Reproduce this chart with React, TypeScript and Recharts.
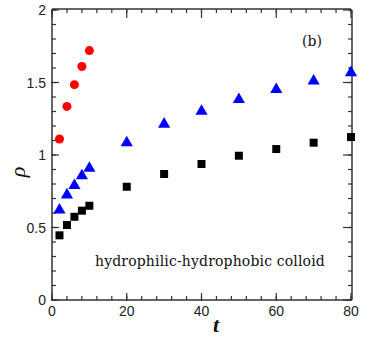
import { ScatterChart, Scatter, XAxis, YAxis, ZAxis } from 'recharts';

// time steps
const tShort = [2, 4, 6, 8, 10];
const tLong = [2, 4, 6, 8, 10, 20, 30, 40, 50, 60, 70, 80];

// rho values
const rhoRed = [1.11, 1.335, 1.485, 1.61, 1.72];
const rhoBlue = [0.62, 0.725, 0.79, 0.857, 0.908, 1.085, 1.213, 1.302, 1.383, 1.452, 1.51, 1.568];
const rhoBlack = [0.446, 0.517, 0.574, 0.616, 0.65, 0.781, 0.869, 0.938, 0.995, 1.041, 1.085, 1.124];

// ticks: minor every 4 / 0.1, major every 20 / 0.5
const xTicks = [0, 4, 8, 12, 16, 20, 24, 28, 32, 36, 40, 44, 48, 52, 56, 60, 64, 68, 72, 76, 80];
const xMajor = [0, 20, 40, 60, 80];
const yTicks = [0, 0.1, 0.2, 0.3, 0.4, 0.5, 0.6, 0.7, 0.8, 0.9, 1, 1.1, 1.2, 1.3, 1.4, 1.5, 1.6, 1.7, 1.8, 1.9, 2];
const yMajor = [0, 0.5, 1, 1.5, 2];

const red = tShort.map((t, i) => ({ t, rho: rhoRed[i] }));
const blue = tLong.map((t, i) => ({ t, rho: rhoBlue[i] }));
const black = tLong.map((t, i) => ({ t, rho: rhoBlack[i] }));

const AXIS = '#333';
const tickStroke = { stroke: AXIS, strokeWidth: 1.2 };
const frame = { stroke: AXIS, strokeWidth: 1.5 };
const blank = () => '';

const BottomLabel = (props: any) => {
  const { x, y, payload } = props;
  return (
    <text x={x} y={y + 23} textAnchor="middle" fontFamily="Liberation Sans, Arial" fontSize={14} fill="#222">
      {payload.value}
    </text>
  );
};

const LeftLabel = (props: any) => {
  const { x, y, payload } = props;
  return (
    <text x={x - 13} y={y + 5} textAnchor="end" fontFamily="Liberation Sans, Arial" fontSize={14} fill="#222">
      {String(payload.value)}
    </text>
  );
};

const serif = '"DejaVu Serif", serif';

export default function App() {
  return (
    <div style={{ position: 'absolute', left: 0, top: 0, width: 374, height: 341, background: '#fff' }}>
      <ScatterChart width={374} height={341} margin={{ top: 8, right: 21, bottom: 0, left: 0 }}>
        {/* minor ticks + frame (nearest the plot) */}
        <XAxis xAxisId={0} type="number" dataKey="t" domain={[0, 80]} ticks={xTicks} interval={0}
               height={1} tickSize={-4} tickLine={tickStroke} tickFormatter={blank} axisLine={frame} />
        <YAxis yAxisId={0} type="number" dataKey="rho" domain={[0, 2]} ticks={yTicks} interval={0}
               width={1} tickSize={-4} tickLine={tickStroke} tickFormatter={blank} axisLine={frame} />
        <XAxis xAxisId="tmin" orientation="top" type="number" dataKey="t" domain={[0, 80]} ticks={xTicks}
               interval={0} height={1} tickSize={-4} tickLine={tickStroke} tickFormatter={blank} axisLine={frame} />
        <YAxis yAxisId="rmin" orientation="right" type="number" dataKey="rho" domain={[0, 2]} ticks={yTicks}
               interval={0} width={1} tickSize={-4} tickLine={tickStroke} tickFormatter={blank} axisLine={frame} />
        {/* major ticks, with labels on bottom and left */}
        <XAxis xAxisId="blab" type="number" dataKey="t" domain={[0, 80]} ticks={xMajor} interval={0}
               height={40} tickSize={-8} tickMargin={0} tickLine={tickStroke} tick={<BottomLabel />} axisLine={false} />
        <YAxis yAxisId="llab" type="number" dataKey="rho" domain={[0, 2]} ticks={yMajor} interval={0}
               width={51} tickSize={-8} tickMargin={0} tickLine={tickStroke} tick={<LeftLabel />} axisLine={false} />
        <XAxis xAxisId="tmaj" orientation="top" type="number" dataKey="t" domain={[0, 80]} ticks={xMajor}
               interval={0} height={1} tickSize={-8} tickLine={tickStroke} tickFormatter={blank} axisLine={false} />
        <YAxis yAxisId="rmaj" orientation="right" type="number" dataKey="rho" domain={[0, 2]} ticks={yMajor}
               interval={0} width={1} tickSize={-8} tickLine={tickStroke} tickFormatter={blank} axisLine={false} />
        <ZAxis zAxisId="dot" range={[75, 75]} />
        <ZAxis zAxisId="tri" range={[42, 42]} />
        <ZAxis zAxisId="sq" range={[68, 68]} />
        {/* invisible twins so every tick axis has a series bound to it */}
        <Scatter data={black} xAxisId="blab" yAxisId="llab" zAxisId="sq" shape="square" fill="none"
                 isAnimationActive={false} legendType="none" />
        <Scatter data={black} xAxisId="tmin" yAxisId="rmin" zAxisId="sq" shape="square" fill="none"
                 isAnimationActive={false} legendType="none" />
        <Scatter data={black} xAxisId="tmaj" yAxisId="rmaj" zAxisId="sq" shape="square" fill="none"
                 isAnimationActive={false} legendType="none" />
        <Scatter data={red} zAxisId="dot" shape="circle" fill="#ff0000" isAnimationActive={false} legendType="none" />
        <Scatter data={blue} zAxisId="tri" shape="triangle" fill="#0000ff" isAnimationActive={false} legendType="none" />
        <Scatter data={black} zAxisId="sq" shape="square" fill="#000000" isAnimationActive={false} legendType="none" />
      </ScatterChart>
      <div style={{ position: 'absolute', left: 302, top: 34, fontFamily: serif, fontSize: 14, lineHeight: 1, color: '#111' }}>
        (b)
      </div>
      <div style={{ position: 'absolute', left: 95, top: 254, fontFamily: serif, fontSize: 14, lineHeight: 1,
                    color: '#111', whiteSpace: 'nowrap', letterSpacing: 0.15 }}>
        hydrophilic-hydrophobic colloid
      </div>
      <div style={{ position: 'absolute', left: 204, top: 314, width: 24, textAlign: 'center',
                    fontFamily: '"Liberation Serif", serif', fontSize: 22, lineHeight: 1, fontStyle: 'italic',
                    fontWeight: 'bold', color: '#111' }}>
        t
      </div>
      <div style={{ position: 'absolute', left: 6, top: 160, width: 24, height: 24, textAlign: 'center',
                    fontFamily: '"Liberation Serif", serif', fontSize: 22, lineHeight: '24px', fontStyle: 'italic',
                    color: '#111', transform: 'rotate(-90deg)' }}>
        ρ
      </div>
    </div>
  );
}
